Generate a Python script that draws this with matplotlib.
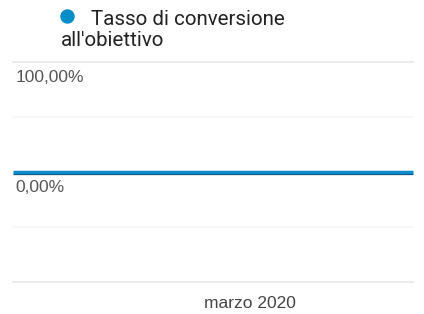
import matplotlib
matplotlib.use("Agg")
import matplotlib.pyplot as plt
from matplotlib.lines import Line2D
import matplotlib.transforms as mtrans

# Data
days = list(range(1, 32))            # giorni di marzo 2020
conversion_rate = [0.0] * 31          # Tasso di conversione all'obiettivo (%)
series_name = "Tasso di conversione\nall'obiettivo"
y_ticks = [100, 50, 0, -50, -100]
y_tick_labels = {100: "100,00%", 0: "0,00%"}
x_tick_label = "marzo 2020"
x_tick_day = 18.8

W, H = 424, 314
fig = plt.figure(figsize=(W / 100, H / 100), dpi=100)
fig.patch.set_facecolor("white")

left, right, top, bottom = 13, 413, 62, 282
ax = fig.add_axes([left / W, (H - bottom) / H, (right - left) / W, (bottom - top) / H])
ax.set_xlim(days[0], days[-1])
ax.set_ylim(-100, 100)
for s in ax.spines.values():
    s.set_visible(False)
ax.set_yticks([])
ax.tick_params(axis="x", length=0, pad=10, labelsize=12.5, labelcolor="#444444")
ax.set_xticks([x_tick_day])
ax.set_xticklabels([x_tick_label], fontfamily="Liberation Sans")

# gridlines
for v in y_ticks:
    if v == 0:
        continue
    col = "#ebebeb" if abs(v) == 100 else "#f6f6f6"
    ax.axhline(v, color=col, lw=1.3, zorder=1, clip_on=False)

# y labels below gridlines
for v, lab in y_tick_labels.items():
    tr = mtrans.offset_copy(ax.get_yaxis_transform(), fig=fig, x=2.5, y=-20, units="dots")
    ax.text(0, v, lab, transform=tr, ha="left", va="baseline", fontsize=12.5,
            color="#555555", fontfamily="Liberation Sans")

# series line with darker lower edge
shadow_tr = mtrans.offset_copy(ax.transData, fig=fig, x=0, y=-1.8, units="dots")
ax.plot(days, conversion_rate, color="#0b4f75", lw=0.9, transform=shadow_tr, zorder=2,
        solid_capstyle="butt", clip_on=False)
ax.plot(days, conversion_rate, color="#0f8acb", lw=2.5, zorder=3,
        solid_capstyle="butt", clip_on=False)

# legend
fig.add_artist(Line2D([67.3 / W], [1 - 15.7 / H], marker="o", markersize=9.4,
                      color="#058dc7", transform=fig.transFigure, linestyle="none"))
lines = series_name.split("\n")
fig.text(91 / W, 1 - 25 / H, lines[0], fontsize=14.8, color="#222222",
         fontfamily="Roboto", ha="left", va="baseline")
fig.text(60.5 / W, 1 - 46 / H, lines[1], fontsize=14.8, color="#222222",
         fontfamily="Roboto", ha="left", va="baseline")

fig.savefig("out.png", dpi=100, facecolor="white")
